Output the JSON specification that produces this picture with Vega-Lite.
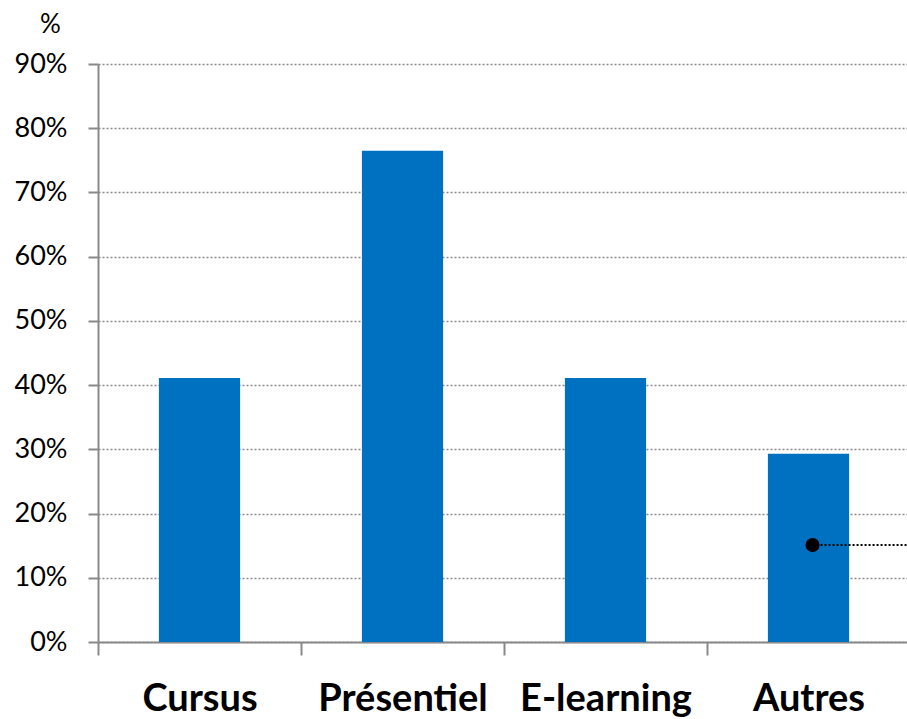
{
  "$schema": "https://vega.github.io/schema/vega-lite/v6.json",
  "autosize": "none",
  "padding": {"left": 98, "top": 64, "right": 0, "bottom": 77},
  "width": 812,
  "height": 578,
  "background": "white",
  "config": {"view": {"stroke": null}, "font": "Lato"},
  "datasets": {
    "bars": [
      {"categorie": "Cursus", "valeur": 0.411},
      {"categorie": "Présentiel", "valeur": 0.765},
      {"categorie": "E-learning", "valeur": 0.411},
      {"categorie": "Autres", "valeur": 0.293}
    ],
    "point": [
      {"categorie": "Autres", "valeur": 0.151}
    ]
  },
  "layer": [
    {
      "data": {"name": "bars"},
      "mark": {"type": "bar", "color": "#0070C0", "width": {"band": 0.4}},
      "encoding": {
        "x": {
          "field": "categorie", "type": "nominal",
          "sort": ["Cursus", "Présentiel", "E-learning", "Autres"],
          "scale": {"paddingInner": 0, "paddingOuter": 0},
          "axis": {
            "title": null, "labelAngle": 0, "labelFont": "Lato", "labelFontSize": 38,
            "labelFontWeight": "bold", "labelColor": "black", "labelPadding": 25,
            "tickBand": "extent", "tickSize": 13, "tickColor": "#898989", "tickWidth": 2,
            "domainColor": "#898989", "domainWidth": 2
          }
        },
        "y": {
          "field": "valeur", "type": "quantitative",
          "scale": {"domain": [0, 0.9], "nice": false},
          "axis": {
            "format": ".0%", "values": [0, 0.1, 0.2, 0.3, 0.4, 0.5, 0.6, 0.7, 0.8, 0.9],
            "labelOverlap": false,
            "labelFont": "Lato", "labelFontSize": 27, "labelColor": "black", "labelPadding": 21,
            "tickSize": 10, "tickColor": "#898989", "tickWidth": 2,
            "domainColor": "#898989", "domainWidth": 2,
            "grid": true, "gridColor": "#8a8a8a", "gridDash": [2, 2], "gridWidth": 1.3,
            "title": "%", "titleAngle": 0, "titleFont": "Lato", "titleFontSize": 26,
            "titleFontWeight": "normal", "titleColor": "black",
            "titleAlign": "center", "titleBaseline": "bottom", "titleAnchor": "end",
            "titleX": -48, "titleY": -27
          }
        }
      }
    },
    {
      "data": {"name": "point"},
      "mark": {"type": "rule", "color": "black", "strokeDash": [2, 2], "strokeWidth": 2},
      "encoding": {
        "x": {"field": "categorie", "type": "nominal", "bandPosition": 0.52,
              "sort": ["Cursus", "Présentiel", "E-learning", "Autres"]},
        "x2": {"field": "categorie", "bandPosition": 1},
        "y": {"field": "valeur", "type": "quantitative"}
      }
    },
    {
      "data": {"name": "point"},
      "mark": {"type": "point", "filled": true, "color": "black", "size": 200, "opacity": 1},
      "encoding": {
        "x": {"field": "categorie", "type": "nominal", "bandPosition": 0.52,
              "sort": ["Cursus", "Présentiel", "E-learning", "Autres"]},
        "y": {"field": "valeur", "type": "quantitative"}
      }
    }
  ]
}
